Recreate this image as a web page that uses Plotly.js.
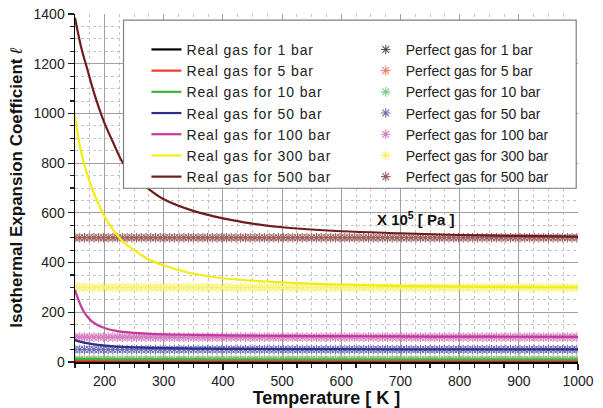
<!DOCTYPE html>
<html>
<head>
<meta charset="utf-8">
<script src="https://cdn.plot.ly/plotly-3.0.1.min.js"></script>
<style>
html,body{margin:0;padding:0;background:#fff;}
#chart{width:603px;height:408px;}
#chart .legendtext{letter-spacing:0.9px;}
#chart .legend .scrollbox{clip-path:none !important;}
</style>
</head>
<body>
<div id="chart"></div>
<script>
// Real gas temperature samples [K]
const realT = [150,155,160,165,170,180,190,200,215,230,250,275,300,350,400,450,500,600,700,800,900,1000];
// Real gas isothermal expansion coefficient (x 10^5 Pa)
const real1   = [1.05,1.05,1.04,1.04,1.04,1.03,1.03,1.03,1.02,1.02,1.02,1.01,1.01,1.01,1.01,1.0,1.0,1.0,1.0,1.0,1.0,1.0];
const real5   = [5.6,5.5,5.45,5.4,5.35,5.3,5.25,5.2,5.17,5.14,5.11,5.09,5.07,5.05,5.04,5.03,5.02,5.01,5.0,5.0,5.0,5.0];
const real10  = [13,12.7,12.4,12.1,11.9,11.5,11.2,11,10.8,10.6,10.5,10.4,10.3,10.2,10.1,10.1,10.05,10,10,10,10,10];
const real50  = [88,84,81,78,76,72,69,66,63,61,59,57,56,54,53,52.5,52,51.5,51,50.8,50.6,50.5];
const real100 = [290,255,225,202,185,160,146,137,127,121,117,113,111,109,107,106,105,104,103,102,101.5,101];
const real300 = [990,910,850,800,760,690,635,585,530,487,450,412,388,355,337,327,320,311,306,303,301,300];
const real500 = [1385,1325,1270,1225,1185,1100,1025,960,880,805,745,695,655,608,578,557,542,526,518,511,507,504];

// Perfect gas temperature samples [K]
const perfectT = [150,158,166,174,182,190,198,206,214,222,230,238,246,254,262,270,278,286,294,302,310,318,326,334,342,350,358,366,374,382,390,398,406,414,422,430,438,446,454,462,470,478,486,494,502,510,518,526,534,542,550,558,566,574,582,590,598,606,614,622,630,638,646,654,662,670,678,686,694,702,710,718,726,734,742,750,758,766,774,782,790,798,806,814,822,830,838,846,854,862,870,878,886,894,902,910,918,926,934,942,950,958,966,974,982,990,998];
// Perfect gas coefficient equals the pressure
const pressures = [1,5,10,50,100,300,500];

const realSeries = [real1, real5, real10, real50, real100, real300, real500];
const lineColors   = ['#000000','#f03a2a','#3cb43c','#2e2e8c','#c43a9c','#f2ee10','#6e1c1c'];
const markerColors = ['#555555','#f08474','#80cc80','#6e6eb4','#d87cc2','#f6f270','#9e5e5e'];

const traces = [];
pressures.forEach((p, i) => {
  traces.push({
    x: perfectT, y: perfectT.map(() => p),
    type: 'scatter', mode: 'markers',
    name: 'Perfect gas for ' + p + ' bar',
    legend: 'legend2',
    marker: {symbol: 'asterisk-open', size: 8, color: markerColors[i], line: {color: markerColors[i], width: 1.1}},
    hoverinfo: 'skip'
  });
});
pressures.forEach((p, i) => {
  traces.push({
    x: realT, y: realSeries[i],
    type: 'scatter', mode: 'lines',
    name: 'Real gas for ' + p + ' bar',
    legend: 'legend',
    line: {color: lineColors[i], width: 2.2, shape: 'spline', smoothing: 1},
    hoverinfo: 'skip'
  });
});

const fontFam = 'Liberation Sans, Arial, sans-serif';
const layout = {
  width: 603, height: 408,
  margin: {l: 75, r: 25, t: 14, b: 46},
  paper_bgcolor: '#ffffff', plot_bgcolor: '#ffffff',
  font: {family: fontFam, size: 14, color: '#222'},
  showlegend: true,
  xaxis: {
    range: [150, 1000], tick0: 0, dtick: 100, showline: true, linecolor: '#000', linewidth: 1.5,
    ticks: 'outside', ticklen: 6, tickcolor: '#222', tickwidth: 1.2,
    gridcolor: '#a0a0a0', gridwidth: 1, zeroline: false,
    tickfont: {size: 14, color: '#222'},
    minor: {dtick: 25, showgrid: true, gridcolor: '#c4c4c4', griddash: 'dot', gridwidth: 1, ticks: 'outside', ticklen: 4, tickcolor: '#222'},
    title: {text: '<b>Temperature [ K ]</b>', font: {size: 18, color: '#111'}, standoff: 4}
  },
  yaxis: {
    range: [0, 1400], tick0: 0, dtick: 200, showline: true, linecolor: '#000', linewidth: 1.5,
    ticks: 'outside', ticklen: 6, tickcolor: '#222', tickwidth: 1.2,
    gridcolor: '#a0a0a0', gridwidth: 1, zeroline: false,
    tickfont: {size: 14, color: '#222'},
    minor: {dtick: 50, showgrid: true, gridcolor: '#c4c4c4', griddash: 'dot', gridwidth: 1, ticks: 'outside', ticklen: 4, tickcolor: '#222'},
    title: {text: '<b>Isothermal Expansion Coefficient </b><i>ℓ</i>', font: {size: 17, color: '#111'}, standoff: 6}
  },
  legend: {
    x: 0.142, y: 0.943, xanchor: 'left', yanchor: 'top',
    bgcolor: 'rgba(0,0,0,0)', borderwidth: 0,
    font: {size: 14, color: '#222'}, traceorder: 'normal'
  },
  legend2: {
    x: 0.578, y: 0.943, xanchor: 'left', yanchor: 'top',
    bgcolor: 'rgba(0,0,0,0)', borderwidth: 0,
    font: {size: 14, color: '#222'}, traceorder: 'normal'
  },
  shapes: [{
    type: 'rect', xref: 'x', yref: 'y', x0: 232, x1: 997, y0: 699, y1: 1375,
    fillcolor: '#ffffff', line: {color: '#808080', width: 1.2}, layer: 'above'
  }],
  annotations: [{
    x: 726, y: 579, xref: 'x', yref: 'y', showarrow: false,
    text: '<b>X 10<sup>5</sup> [ Pa ]</b>', font: {size: 15, color: '#111'}
  }]
};

Plotly.newPlot('chart', traces, layout, {staticPlot: true, displayModeBar: false});
</script>
</body>
</html>
